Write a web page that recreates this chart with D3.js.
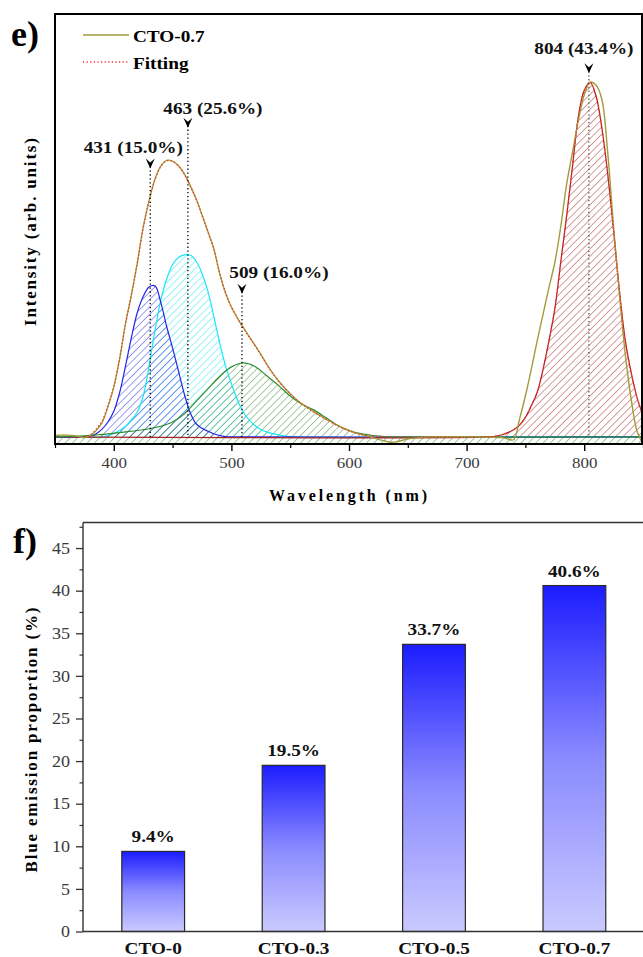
<!DOCTYPE html>
<html><head><meta charset="utf-8">
<script src="https://cdn.jsdelivr.net/npm/d3@7/dist/d3.min.js"></script>
<style>
html,body{margin:0;padding:0;background:#fff;}
svg{display:block;font-family:"Liberation Serif","Times New Roman",serif;}
</style></head>
<body>
<svg id="c" width="643" height="957"></svg>
<script>
// ---------------- DATA (panel e) ----------------
const specLabel = "CTO-0.7";
const fitLabel = "Fitting";
const xTicksE = [400, 500, 600, 700, 800];
const xMinorE = [350, 450, 550, 650, 750, 850];

// measured spectrum CTO-0.7 [wavelength nm, normalized intensity]
const spectrum = [[350,0.004],[355,0.005],[360,0.005],[365,0.004],[370,0.001],[375,-0.002],[380,0.004],[385,0.018],[390,0.04],[395,0.085],[400,0.14],[405,0.22],[410,0.32],[415,0.40],[420,0.49],[425,0.59],[430,0.665],[435,0.725],[440,0.762],[445,0.778],[450,0.776],[455,0.763],[460,0.74],[465,0.707],[470,0.67],[475,0.625],[480,0.578],[485,0.53],[490,0.46],[495,0.405],[500,0.365],[505,0.335],[510,0.308],[515,0.283],[520,0.258],[525,0.232],[530,0.205],[535,0.18],[540,0.158],[545,0.139],[550,0.122],[555,0.106],[560,0.093],[565,0.082],[570,0.071],[575,0.061],[580,0.051],[585,0.042],[590,0.033],[595,0.025],[600,0.018],[605,0.012],[610,0.007],[615,0.003],[620,-0.002],[625,-0.007],[630,-0.011],[635,-0.015],[640,-0.014],[645,-0.01],[650,-0.006],[660,-0.002],[670,0],[700,0],[730,-0.002],[735,-0.006],[740,-0.008],[745,0.05],[750,0.115],[755,0.19],[760,0.27],[765,0.345],[770,0.42],[775,0.49],[780,0.59],[785,0.71],[790,0.8],[795,0.89],[800,0.962],[805,0.998],[810,0.99],[815,0.95],[820,0.8],[825,0.59],[830,0.4],[835,0.23],[840,0.105],[845,0.015],[850,-0.02]];

// cumulative fit
const fitCurve = [[375,0.0],[380,0.005],[385,0.022],[390,0.045],[395,0.088],[400,0.142],[405,0.222],[410,0.318],[415,0.402],[420,0.49],[425,0.588],[430,0.664],[435,0.724],[440,0.761],[445,0.777],[450,0.775],[455,0.762],[460,0.739],[465,0.706],[470,0.669],[475,0.624],[480,0.577],[485,0.529],[490,0.461],[495,0.406],[500,0.366],[505,0.336],[510,0.307],[515,0.282],[520,0.257],[525,0.231],[530,0.204],[535,0.179],[540,0.157],[545,0.138],[550,0.121],[555,0.105],[560,0.092],[565,0.081],[570,0.07],[575,0.06],[580,0.05],[585,0.041],[590,0.032],[595,0.024],[600,0.017],[605,0.011],[610,0.007],[615,0.004],[620,0.002],[630,0.001],[640,0],[720,0],[725,0.002],[730,0.006],[735,0.012],[740,0.02],[745,0.033],[750,0.055],[755,0.088],[760,0.125],[765,0.19],[770,0.27],[775,0.36],[780,0.49],[785,0.62],[790,0.76],[795,0.9],[800,0.975],[805,0.998],[810,0.96],[815,0.87],[820,0.74],[825,0.58],[830,0.41],[835,0.27],[840,0.18],[845,0.11],[850,0.06]];

// Gaussian components
const peak431 = [[350,0],[375,0],[380,0.002],[385,0.009],[390,0.022],[395,0.042],[400,0.072],[405,0.125],[410,0.2],[415,0.28],[420,0.35],[425,0.395],[430,0.422],[435,0.425],[440,0.378],[445,0.31],[450,0.25],[455,0.185],[460,0.12],[465,0.068],[470,0.037],[475,0.024],[480,0.016],[485,0.009],[490,0.004],[495,0.001],[500,0],[850,0]];
const peak463 = [[350,0],[390,0],[395,0.004],[400,0.01],[405,0.018],[410,0.03],[415,0.048],[420,0.07],[425,0.115],[430,0.2],[435,0.3],[440,0.385],[445,0.445],[450,0.485],[455,0.505],[460,0.512],[465,0.512],[470,0.495],[475,0.46],[480,0.41],[485,0.34],[490,0.265],[495,0.2],[500,0.15],[505,0.105],[510,0.07],[515,0.048],[520,0.032],[525,0.021],[530,0.014],[535,0.009],[540,0.006],[545,0.003],[550,0.001],[555,0],[850,0]];
const peak509 = [[350,0],[360,0.001],[370,0.002],[380,0.004],[390,0.007],[400,0.01],[410,0.014],[420,0.018],[430,0.023],[440,0.03],[450,0.042],[460,0.065],[470,0.1],[480,0.135],[490,0.17],[500,0.197],[510,0.208],[520,0.198],[530,0.172],[540,0.145],[550,0.115],[560,0.092],[570,0.076],[580,0.055],[590,0.033],[600,0.018],[610,0.009],[620,0.004],[630,0.001],[640,0],[850,0]];
const peak804 = [[350,0],[720,0],[725,0.002],[730,0.006],[735,0.012],[740,0.02],[745,0.033],[750,0.055],[755,0.088],[760,0.125],[765,0.19],[770,0.27],[775,0.36],[780,0.49],[785,0.62],[790,0.76],[795,0.9],[800,0.975],[805,0.998],[810,0.96],[815,0.87],[820,0.74],[825,0.58],[830,0.41],[835,0.27],[840,0.18],[845,0.11],[850,0.06]];

// peak annotations: centre (nm), area share, marker level (intensity units)
const peakCentres = [431, 463, 509, 804];
const peakShares = ["15.0%", "25.6%", "16.0%", "43.4%"];
const markerLevels = [0.772, 0.887, 0.42, 1.04];

// ---------------- DATA (panel f) ----------------
const samples = ["CTO-0", "CTO-0.3", "CTO-0.5", "CTO-0.7"];
const blueShare = [9.4, 19.5, 33.7, 40.6];
const yTicksF = [0, 5, 10, 15, 20, 25, 30, 35, 40, 45];
const yMinorF = [2.5, 7.5, 12.5, 17.5, 22.5, 27.5, 32.5, 37.5, 42.5, 47.5];

// ---------------- DRAW ----------------
const svg = d3.select("#c");
const defs = svg.append("defs");
const FONT = '"Liberation Serif","Times New Roman",serif';

const col = {olive:"#a29c3c", fit:"#ff2a2a", p431:"#2424e6", p463:"#18e6f6", p509:"#2e8c2e", p804:"#a82222"};

function hatch(id, color){
  const p = defs.append("pattern").attr("id", id).attr("patternUnits","userSpaceOnUse")
    .attr("width", 5.2).attr("height", 5.2).attr("patternTransform","rotate(45)");
  p.append("line").attr("x1",0).attr("y1",0).attr("x2",0).attr("y2",5.2)
    .attr("stroke", color).attr("stroke-width", 0.9);
}
hatch("h431", col.p431); hatch("h463", col.p463); hatch("h509", col.p509); hatch("h804", col.p804);

// Panel e scales
const xs = d3.scaleLinear().domain([350, 850]).range([55, 643]);
const ys = d3.scaleLinear().domain([-0.02, 1.19]).range([444, 14]);

defs.append("clipPath").attr("id","clipE").append("rect")
  .attr("x", xs(350)).attr("y", ys(1.19)).attr("width", xs(850)-xs(350)).attr("height", ys(-0.02)-ys(1.19));

const gE = svg.append("g");
const plot = gE.append("g").attr("clip-path","url(#clipE)");
const crv = d3.curveCatmullRom.alpha(0.5);
const lineGen = d3.line().x(d=>xs(d[0])).y(d=>ys(d[1])).curve(crv);
const areaZero = d3.area().x(d=>xs(d[0])).y0(ys(0)).y1(d=>ys(d[1])).curve(crv);
const areaBottom = d3.area().x(d=>xs(d[0])).y0(ys(-0.02)).y1(d=>ys(d[1])).curve(crv);

// fills
plot.append("path").datum(peak804).attr("d", areaZero).attr("fill","url(#h804)");
plot.append("path").datum(peak463).attr("d", areaZero).attr("fill","url(#h463)");
plot.append("path").datum(peak431).attr("d", areaZero).attr("fill","url(#h431)");
plot.append("path").datum(peak509).attr("d", areaBottom).attr("fill","url(#h509)");

// component lines
[[peak463,col.p463],[peak431,col.p431],[peak804,col.p804],[peak509,col.p509]].forEach(([d,c])=>{
  plot.append("path").datum(d).attr("d", lineGen).attr("fill","none").attr("stroke", c).attr("stroke-width", 1.2);
});

// spectrum + fit
plot.append("path").datum(spectrum).attr("d", lineGen).attr("fill","none").attr("stroke", col.olive).attr("stroke-width", 1.4);
plot.append("path").datum(fitCurve).attr("d", lineGen).attr("fill","none").attr("stroke", col.fit)
  .attr("stroke-width", 1.3).attr("stroke-dasharray","1.2,2.4");

// peak markers
const labelDx = [-17, 25, 37, -5];   // label centre offset from marker (px)
const labelDy = [-11, -9, -11, -14]; // label baseline above marker top (px)
peakCentres.forEach((c,i)=>{
  const x = xs(c), yTop = ys(markerLevels[i]);
  gE.append("line").attr("x1",x).attr("x2",x).attr("y1",yTop+4).attr("y2",ys(0))
    .attr("stroke", i===3 ? "#555" : "#000").attr("stroke-width",1.3).attr("stroke-dasharray","1.3,2.6");
  gE.append("path").attr("transform",`translate(${x},${yTop+5})`)
    .attr("d","M-4.5,-9 L0,-5 L4.5,-9 L0,1 Z").attr("fill","#000");
  gE.append("text").attr("class","st").attr("x", x+labelDx[i]).attr("y", yTop+labelDy[i]+1)
    .attr("text-anchor","middle").attr("font-weight","bold").attr("font-size",17).attr("fill","#111")
    .text(`${c} (${peakShares[i]})`);
});

// frame panel e
gE.append("rect").attr("x", xs(350)).attr("y", ys(1.19)).attr("width", xs(850)-xs(350)-1).attr("height", ys(-0.02)-ys(1.19))
  .attr("fill","none").attr("stroke","#000").attr("stroke-width",2);

// x axis panel e
const axE = gE.append("g").attr("transform",`translate(0,${ys(-0.02)})`)
  .call(d3.axisBottom(xs).tickValues(xTicksE).tickSize(7).tickSizeOuter(0).tickPadding(6));
axE.select(".domain").remove();
axE.selectAll("line").attr("stroke","#000").attr("stroke-width",1.4);
axE.selectAll("text").attr("class","st").attr("font-family",FONT).attr("font-size",15).attr("fill","#3a3a3a");
const axEm = gE.append("g").attr("transform",`translate(0,${ys(-0.02)})`)
  .call(d3.axisBottom(xs).tickValues(xMinorE).tickSize(4).tickFormat(""));
axEm.select(".domain").remove();
axEm.selectAll("line").attr("stroke","#000").attr("stroke-width",1.2);

gE.append("text").attr("x", 348).attr("y", 501).attr("text-anchor","middle")
  .attr("font-weight","bold").attr("font-size",16).attr("textLength",158).attr("lengthAdjust","spacing")
  .text("Wavelength (nm)");
gE.append("text").attr("transform","translate(36,232) rotate(-90)").attr("text-anchor","middle")
  .attr("font-weight","bold").attr("font-size",17).attr("textLength",188).attr("lengthAdjust","spacing")
  .text("Intensity (arb. units)");

// legend
gE.append("line").attr("x1",83).attr("x2",129).attr("y1",35).attr("y2",35).attr("stroke",col.olive).attr("stroke-width",1.5);
gE.append("text").attr("class","st").attr("x",133).attr("y",42).attr("font-weight","bold").attr("font-size",17).text(specLabel);
gE.append("line").attr("x1",83).attr("x2",129).attr("y1",62).attr("y2",62).attr("stroke",col.fit).attr("stroke-width",1.3).attr("stroke-dasharray","1.2,2.4");
gE.append("text").attr("class","st").attr("x",133).attr("y",69).attr("font-weight","bold").attr("font-size",17).text(fitLabel);

svg.append("text").attr("x",11).attr("y",46).attr("font-weight","bold").attr("font-size",36).text("e)");
svg.append("text").attr("x",13).attr("y",553).attr("font-weight","bold").attr("font-size",36).text("f)");

// ---------------- Panel f ----------------
const gF = svg.append("g");
const xb = d3.scaleBand().domain(samples).range([83, 644.6]).paddingInner(0.553).paddingOuter(0.2765);
const yb = d3.scaleLinear().domain([0, 48]).range([931.5, 522.5]);

const grad = defs.append("linearGradient").attr("id","barGrad").attr("x1",0).attr("y1",0).attr("x2",0).attr("y2",1);
grad.append("stop").attr("offset","0%").attr("stop-color","#1c1cff");
grad.append("stop").attr("offset","50%").attr("stop-color","#8a8aff");
grad.append("stop").attr("offset","100%").attr("stop-color","#cacaff");

gF.selectAll("rect.bar").data(samples).enter().append("rect").attr("class","bar")
  .attr("x", d=>xb(d)).attr("width", xb.bandwidth())
  .attr("y", (d,i)=>yb(blueShare[i])).attr("height", (d,i)=>yb(0)-yb(blueShare[i]))
  .attr("fill","url(#barGrad)").attr("stroke","#2a2a2a").attr("stroke-width",1.2);

gF.selectAll("text.val").data(samples).enter().append("text").attr("class","val st")
  .attr("x", d=>xb(d)+xb.bandwidth()/2).attr("y", (d,i)=>yb(blueShare[i])-9)
  .attr("text-anchor","middle").attr("font-weight","bold").attr("font-size",17).attr("fill","#111")
  .text((d,i)=>blueShare[i].toFixed(1)+"%");

// frame lines
gF.append("line").attr("x1",83).attr("x2",643).attr("y1",yb(48)).attr("y2",yb(48)).attr("stroke","#333").attr("stroke-width",1.4);
const ayF = gF.append("g").attr("transform","translate(83,0)")
  .call(d3.axisLeft(yb).tickValues(yTicksF).tickSize(7).tickSizeOuter(0).tickPadding(6));
ayF.select(".domain").attr("stroke","#333").attr("stroke-width",1.4).attr("d",`M0,${yb(48)}V${yb(0)}`);
ayF.selectAll("line").attr("stroke","#333").attr("stroke-width",1.3);
ayF.selectAll("text").attr("class","st").attr("font-family",FONT).attr("font-size",16).attr("fill","#3a3a3a");
const ayFm = gF.append("g").attr("transform","translate(83,0)")
  .call(d3.axisLeft(yb).tickValues(yMinorF).tickSize(3.5).tickFormat(""));
ayFm.select(".domain").remove();
ayFm.selectAll("line").attr("stroke","#333").attr("stroke-width",1.2);

const axF = gF.append("g").attr("transform",`translate(0,${yb(0)})`)
  .call(d3.axisBottom(xb).tickSize(0).tickSizeOuter(0).tickPadding(10));
axF.select(".domain").attr("stroke","#333").attr("stroke-width",1.4).attr("d","M83,0H643");
axF.selectAll("text").attr("class","st").attr("font-family",FONT).attr("font-size",17).attr("font-weight","bold").attr("fill","#111");

gF.append("text").attr("transform","translate(37,740) rotate(-90)").attr("text-anchor","middle")
  .attr("font-weight","bold").attr("font-size",17).attr("textLength",265).attr("lengthAdjust","spacing")
  .text("Blue emission proportion (%)");

// horizontal stretch of text (source figure is slightly widened)
svg.selectAll("text.st").each(function(){
  const w = this.getComputedTextLength();
  this.setAttribute("textLength", (w*1.13).toFixed(1));
  this.setAttribute("lengthAdjust","spacingAndGlyphs");
});
</script>
</body></html>
